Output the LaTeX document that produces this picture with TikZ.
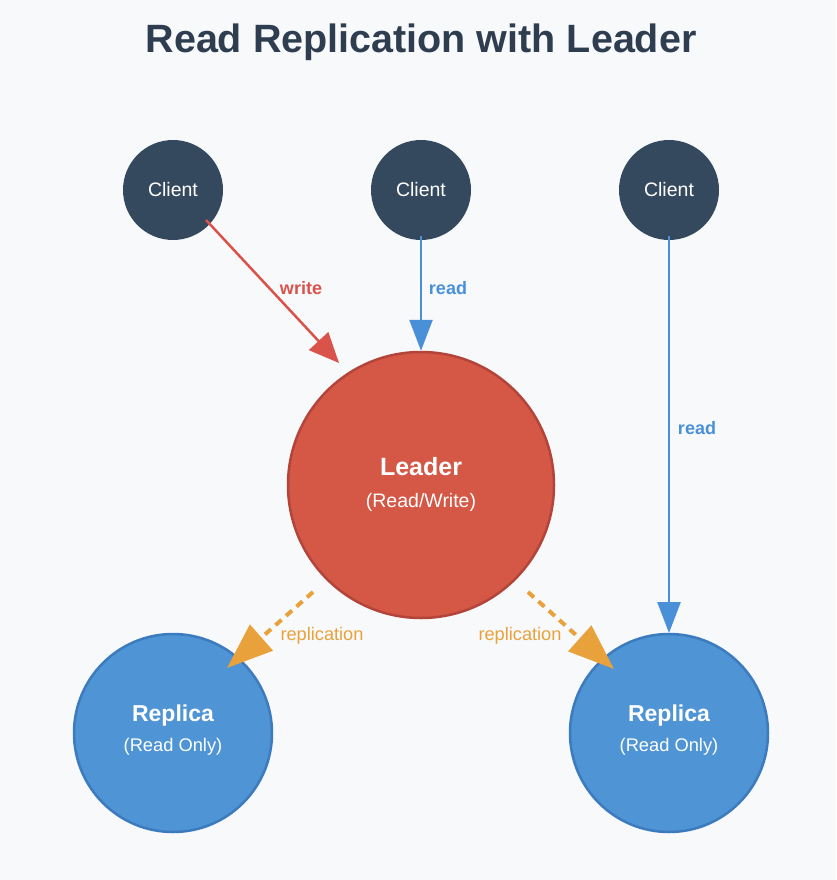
\documentclass[tikz,border=0pt]{standalone}
\usepackage{fontspec}
\setmainfont{Liberation Sans}
\usetikzlibrary{arrows.meta,calc}
\definecolor{bg}{HTML}{F7F9FB}
\definecolor{titlec}{HTML}{2E3E50}
\definecolor{clientc}{HTML}{34495E}
\definecolor{leaderc}{HTML}{D55745}
\definecolor{leaderb}{HTML}{B3443A}
\definecolor{replicac}{HTML}{4F94D4}
\definecolor{replicab}{HTML}{3C7BBD}
\definecolor{readc}{HTML}{4A90D9}
\definecolor{writec}{HTML}{D9534A}
\definecolor{replc}{HTML}{E9A23B}
\tikzset{
  x=1pt,y=-1pt,
  clientnode/.style={circle,fill=clientc,minimum size=100pt,inner sep=0pt,text=white,font=\fontsize{19.5}{21}\selectfont},
  leadernode/.style={circle,fill=leaderc,draw=leaderb,line width=2.5pt,minimum size=266pt,inner sep=0pt,text=white},
  replicanode/.style={circle,fill=replicac,draw=replicab,line width=2.5pt,minimum size=198pt,inner sep=0pt,text=white},
  leadtxt/.style={text=white,font=\bfseries\fontsize{25}{27}\selectfont},
  leadsub/.style={text=white,font=\fontsize{19.5}{21}\selectfont},
  reptxt/.style={text=white,font=\bfseries\fontsize{23}{25}\selectfont},
  repsub/.style={text=white,font=\fontsize{18.3}{20}\selectfont},
  writearrow/.style={draw=writec,line width=2.5pt,-{Triangle[length=30pt,width=26pt]}},
  readarrow/.style={draw=readc,line width=2.5pt,-{Triangle[length=31pt,width=23pt]}},
  replarrow/.style={draw=replc,line width=4pt,dash pattern=on 8pt off 6pt,-{Triangle[length=46pt,width=34pt]}},
  lbl/.style={font=\bfseries\fontsize{18}{20}\selectfont},
  repllbl/.style={text=replc,font=\fontsize{18.2}{20}\selectfont},
}
\begin{document}
\begin{tikzpicture}
\fill[bg] (0,0) rectangle (836,880);
\useasboundingbox (0,0) rectangle (836,880);
\node[text=titlec,font=\bfseries\fontsize{39.5}{42}\selectfont] (title) at (421,42) {Read Replication with Leader};
\node[clientnode] (c1) at (173,190) {Client};
\node[clientnode] (c2) at (421,190) {Client};
\node[clientnode] (c3) at (669,190) {Client};
\node[leadernode] (leader) at (421,485) {};
\node[leadtxt] (leadert) at (421,467) {Leader};
\node[leadsub] (leaders) at (421,502) {(Read/Write)};
\node[replicanode] (r1) at (173,733) {};
\node[reptxt] (r1t) at (173,716) {Replica};
\node[repsub] (r1s) at (173,747) {(Read Only)};
\node[replicanode] (r2) at (669,733) {};
\node[reptxt] (r2t) at (669,716) {Replica};
\node[repsub] (r2s) at (669,747) {(Read Only)};
% arrows
\draw[writearrow] ($(c1.center)+(33,30)$) -- ($(leader.center)+(-82,-122)$);
\draw[readarrow] ($(c2.center)+(0,46)$) -- (leader.north);
\draw[readarrow] ($(c3.center)+(0,46)$) -- ($(r2.center)+(0,-100)$);
\draw[replarrow] ($(leader.center)+(-108,107)$) -- ($(r1.center)+(54,-65)$);
\draw[replarrow] ($(leader.center)+(107,107)$) -- ($(r2.center)+(-55,-64)$);
\node[lbl,text=writec] (wl) at (301,288) {write};
\node[lbl,text=readc] (rl1) at (448,288) {read};
\node[lbl,text=readc] (rl2) at (697,428) {read};
\node[repllbl] (pl1) at (322,636) {replication};
\node[repllbl] (pl2) at (520,636) {replication};
\end{tikzpicture}
\end{document}
